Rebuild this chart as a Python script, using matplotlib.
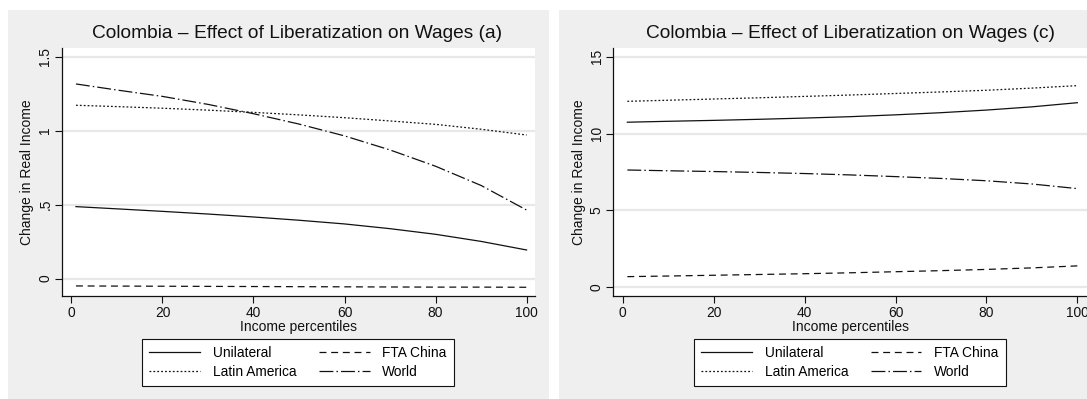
import matplotlib
matplotlib.use("Agg")
import matplotlib.pyplot as plt
from matplotlib.patches import Rectangle

plt.rcParams["font.family"] = ["Liberation Sans", "DejaVu Sans"]
plt.rcParams["lines.scale_dashes"] = False

# Income percentiles at which the curves are evaluated
percentiles = [1, 10, 20, 30, 40, 50, 60, 70, 80, 90, 100]

# Panel (a)
a_unilateral = [0.487, 0.472, 0.455, 0.437, 0.417, 0.395, 0.370, 0.338, 0.300, 0.252, 0.194]
a_fta_china = [-0.049, -0.050, -0.051, -0.052, -0.053, -0.054, -0.055, -0.056, -0.057, -0.057, -0.058]
a_latin_america = [1.172, 1.163, 1.152, 1.139, 1.124, 1.107, 1.088, 1.066, 1.043, 1.010, 0.971]
a_world = [1.316, 1.275, 1.232, 1.178, 1.115, 1.045, 0.965, 0.870, 0.760, 0.630, 0.464]

# Panel (c)
c_unilateral = [10.74, 10.80, 10.86, 10.93, 11.01, 11.10, 11.22, 11.36, 11.53, 11.74, 12.01]
c_fta_china = [0.69, 0.73, 0.78, 0.83, 0.88, 0.94, 1.01, 1.08, 1.16, 1.26, 1.39]
c_latin_america = [12.10, 12.17, 12.25, 12.33, 12.42, 12.51, 12.61, 12.71, 12.82, 12.96, 13.12]
c_world = [7.63, 7.58, 7.53, 7.47, 7.40, 7.31, 7.20, 7.08, 6.93, 6.72, 6.42]

series_names = ["Unilateral", "FTA China", "Latin America", "World"]
x_ticks = [0, 20, 40, 60, 80, 100]
a_yticks = [0, 0.5, 1, 1.5]
a_yticklabels = ["0", ".5", "1", "1.5"]
c_yticks = [0, 5, 10, 15]
c_yticklabels = ["0", "5", "10", "15"]

W, H = 1087, 399
fig = plt.figure(figsize=(W / 100, H / 100), dpi=100)
fig.patch.set_facecolor("white")

BG = "#efefef"
GRID = "#e8e8e8"
INK = "#111111"
FS = 9.9

styles = {
    "Unilateral": dict(linestyle="-"),
    "FTA China": dict(linestyle=(0, (5.0, 3.4))),
    "Latin America": dict(linestyle=(0, (1.3, 1.5))),
    "World": dict(linestyle=(0, (10.0, 2.2, 1.1, 2.2))),
}


def px_rect(x0, y0, x1, y1):
    return [x0 / W, 1 - y1 / H, (x1 - x0) / W, (y1 - y0) / H]


def panel(bg_box, ax_box, title, title_x, series, yticks, yticklabels, ylim, xlim, legend_x):
    bx0, by0, bx1, by1 = bg_box
    fig.patches.append(Rectangle((bx0 / W, 1 - by1 / H), (bx1 - bx0) / W, (by1 - by0) / H,
                                 transform=fig.transFigure, facecolor=BG, edgecolor="none",
                                 zorder=-5))
    ax = fig.add_axes(px_rect(*ax_box))
    ax.set_zorder(2)
    ax.set_facecolor("white")
    for name, vals in zip(series_names, series):
        ax.plot(percentiles, vals, color=INK, lw=0.9, label=name, **styles[name])
    ax.set_xlim(*xlim)
    ax.set_ylim(*ylim)
    ax.set_xticks(x_ticks)
    ax.set_yticks(yticks)
    ax.set_yticklabels(yticklabels, rotation=90, va="center")
    for y in yticks:
        ax.axhline(y, color=GRID, lw=1.6, zorder=0)
    for s in ["top", "right"]:
        ax.spines[s].set_visible(False)
    for s in ["left", "bottom"]:
        ax.spines[s].set_color(INK)
        ax.spines[s].set_linewidth(0.9)
    ax.tick_params(axis="both", direction="out", length=5, width=0.8, color=INK,
                   labelsize=FS, labelcolor=INK, pad=2)
    ax.set_xlabel("Income percentiles", fontsize=10, color=INK, labelpad=0)
    ax.set_ylabel("Change in Real Income", fontsize=10, color=INK, labelpad=3)
    fig.text(title_x / W, 1 - 33 / H, title, ha="center", va="center",
             fontsize=13.8, color=INK)
    handles, labels = ax.get_legend_handles_labels()
    order = [0, 2, 1, 3]
    leg = fig.legend([handles[i] for i in order], [labels[i] for i in order],
                     loc="center", bbox_to_anchor=(legend_x / W, 1 - 362.5 / H),
                     bbox_transform=fig.transFigure, ncol=2, fontsize=FS,
                     frameon=True, fancybox=False, edgecolor=INK, facecolor="white",
                     framealpha=1, handlelength=3.67, handletextpad=0.93,
                     columnspacing=1.66, labelspacing=0.4, borderpad=0.5)
    leg.get_frame().set_linewidth(0.8)
    leg.set_zorder(3)
    return ax


panel((8, 10, 549, 399), (62, 48, 535, 296),
      "Colombia \u2013 Effect of Liberatization on Wages (a)", 297.5,
      [a_unilateral, a_fta_china, a_latin_america, a_world],
      a_yticks, a_yticklabels, (-0.117, 1.559), (-2.07, 101.85), 298)

panel((559, 10, 1100, 399), (613.4, 48, 1087, 296),
      "Colombia \u2013 Effect of Liberatization on Wages (c)", 850,
      [c_unilateral, c_fta_china, c_latin_america, c_world],
      c_yticks, c_yticklabels, (-0.57, 15.57), (-2.07, 102.13), 850)

fig.savefig("out.png", dpi=100, facecolor=fig.get_facecolor())
